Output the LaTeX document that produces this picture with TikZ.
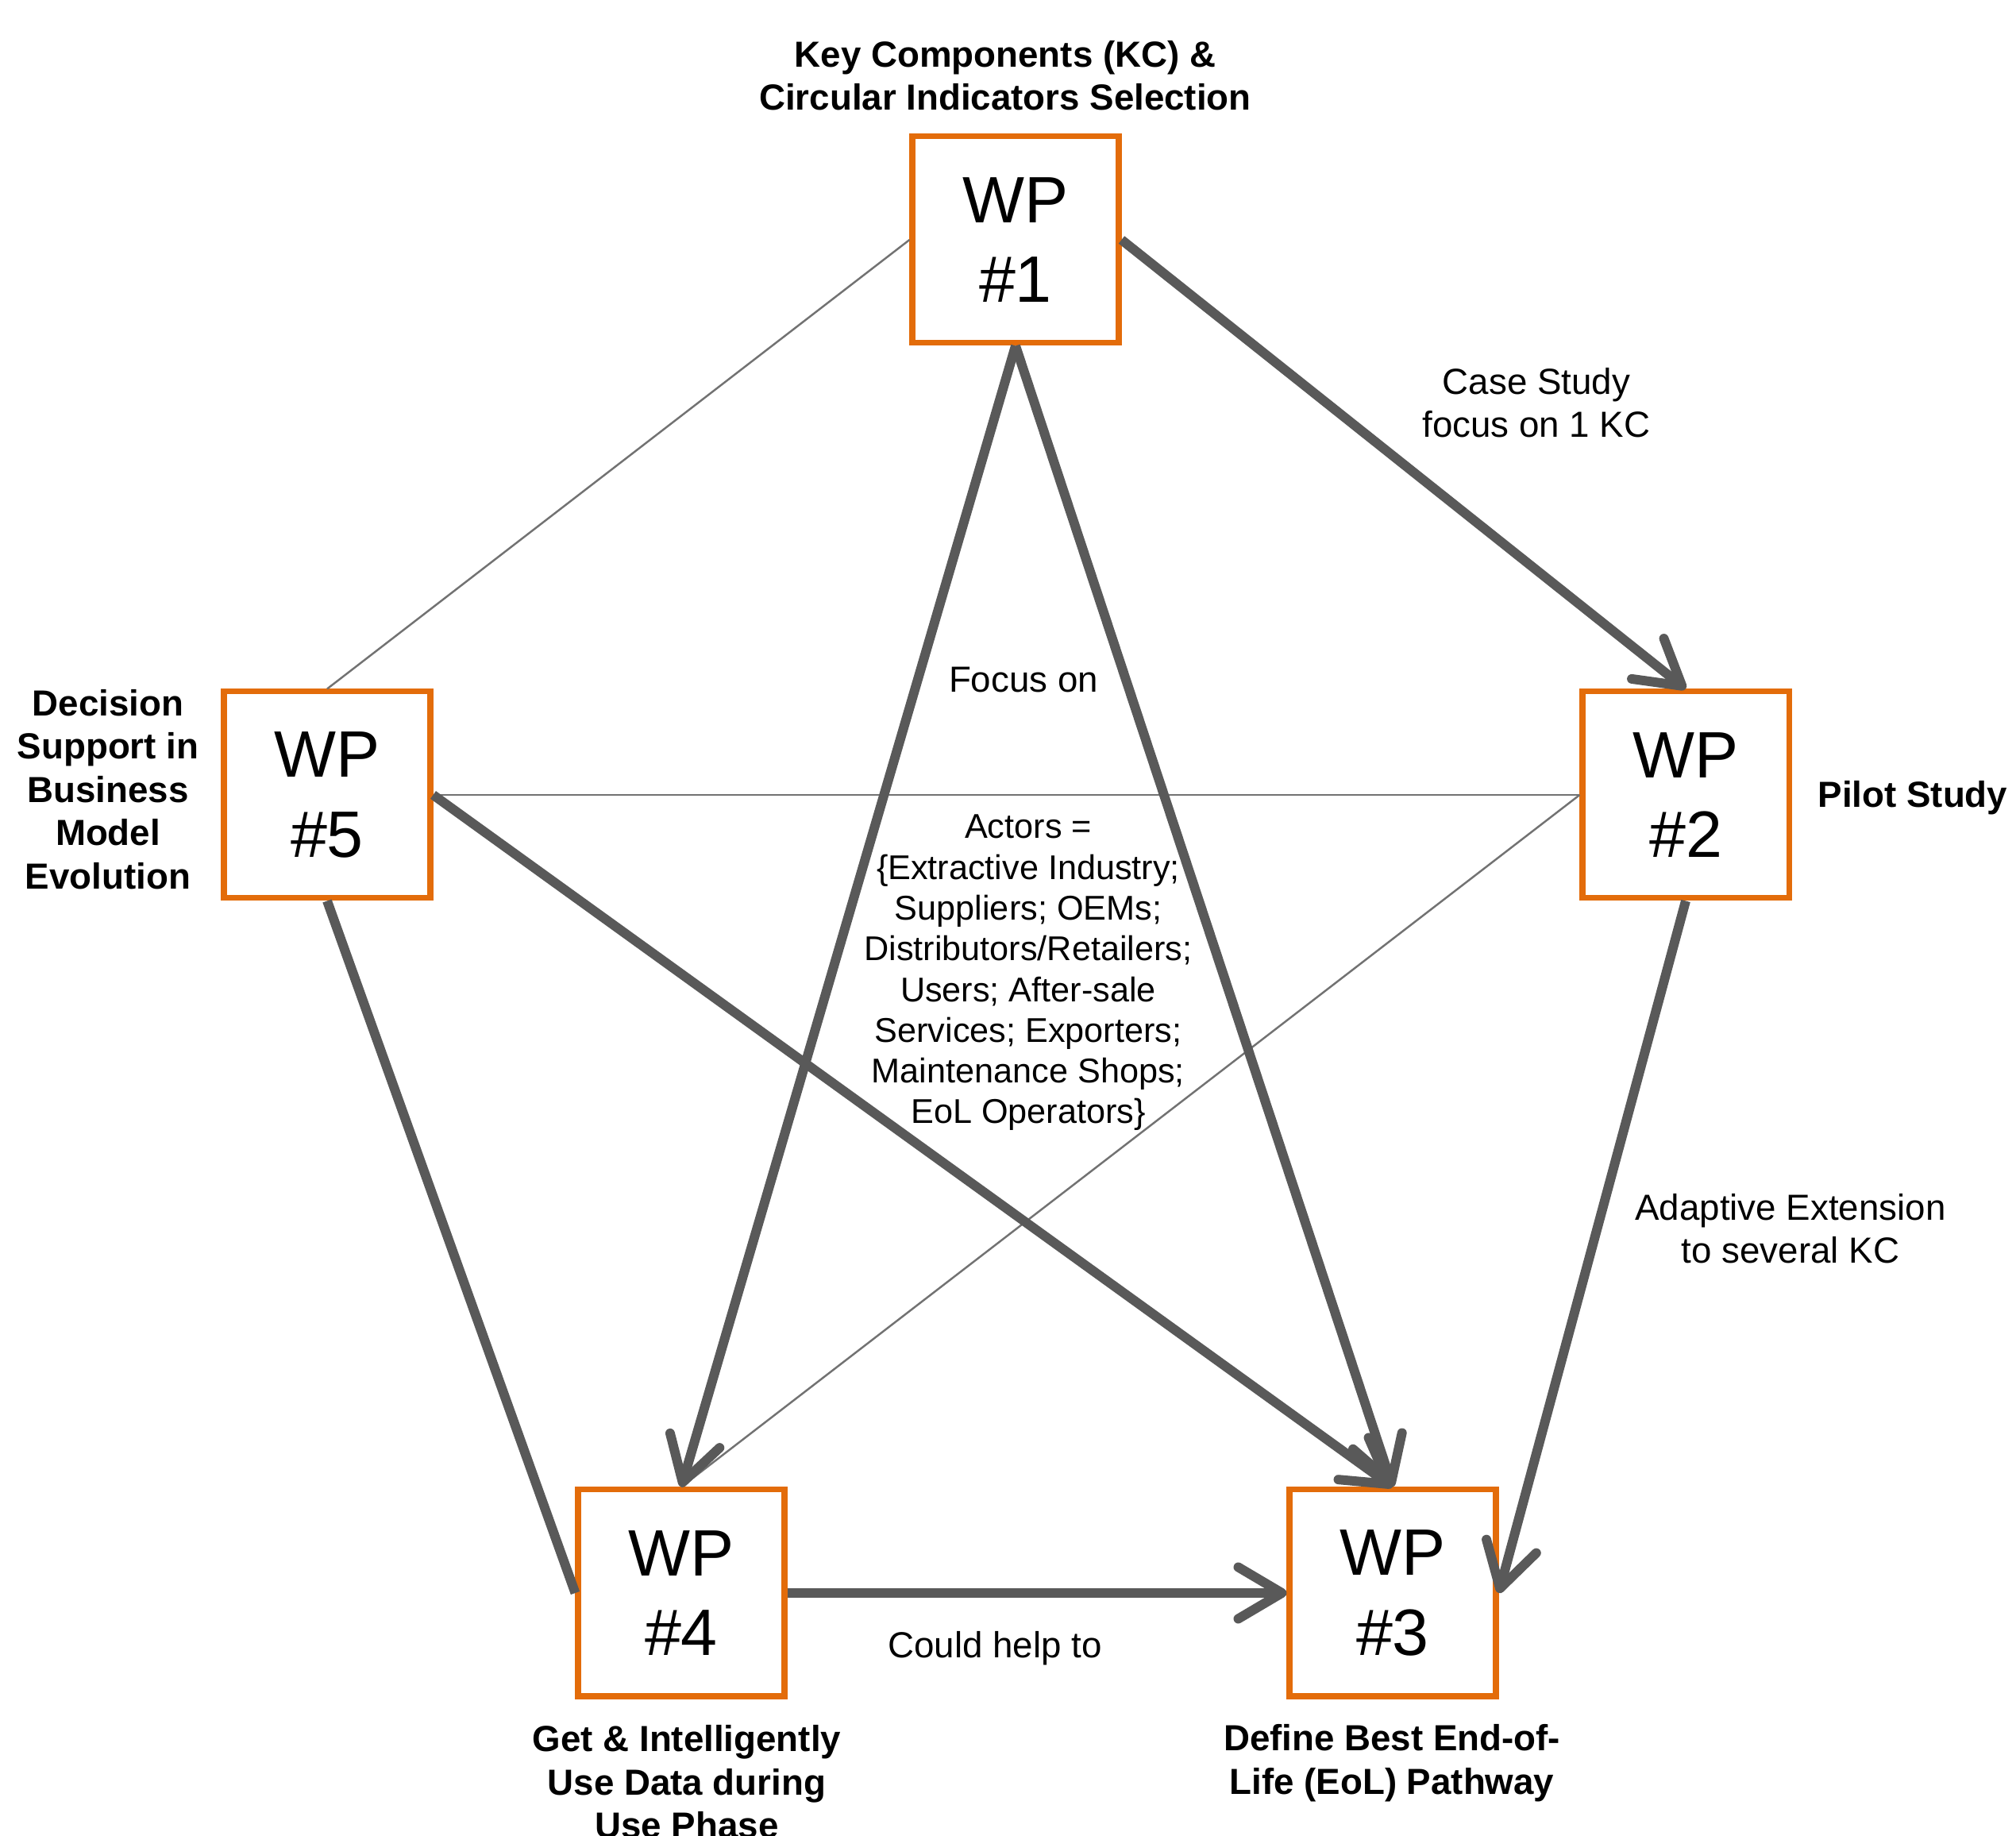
\documentclass[tikz,border=0pt]{standalone}
\usepackage{fontspec}
\setmainfont{Liberation Sans}
\usetikzlibrary{arrows.meta}
\definecolor{wporange}{RGB}{227,108,10}
\definecolor{linkgray}{RGB}{89,89,89}

\tikzset{
  wp/.style={draw=wporange, line width=2pt, minimum size=2.6cm, inner sep=0pt,
    align=center, font=\fontsize{23.5}{28.5}\selectfont},
  lbl/.style={align=center, font=\bfseries\fontsize{13}{15.5}\selectfont},
  txt/.style={align=center, font=\fontsize{13}{15.5}\selectfont},
  flow/.style={draw=linkgray, line width=3.4pt,
    -{Straight Barb[length=5.5mm,width=6.5mm,line cap=round,line join=round]}},
  bond/.style={draw=linkgray, line width=3.4pt},
  tie/.style={draw=linkgray!85, line width=0.7pt}
}

\begin{document}
\begin{tikzpicture}
\useasboundingbox (0,0) rectangle (25.39,23.12);
\node[wp] (wp1) at (12.79,20.10) {WP\\\#1};
\node[wp] (wp2) at (21.23,13.11) {WP\\\#2};
\node[wp] (wp3) at (17.54,3.06) {WP\\\#3};
\node[wp] (wp4) at (8.58,3.06) {WP\\\#4};
\node[wp] (wp5) at (4.12,13.11) {WP\\\#5};

\node[lbl] (kc) at (12.66,22.17) {Key Components (KC) \&\\Circular Indicators Selection};
\node[lbl] (pilot) at (24.09,13.07) {Pilot Study};
\node[lbl] (eol) at (17.53,0.92) {Define Best End-of-\\Life (EoL) Pathway};
\node[lbl] (data) at (8.65,0.68) {Get \& Intelligently\\Use Data during\\Use Phase};
\node[lbl] (bm) at (1.36,13.18) {Decision\\Support in\\Business\\Model\\Evolution};

\draw[tie] (wp1.west) -- (wp5.north);
\draw[tie] (wp5.east) -- (wp2.west);
\draw[tie] (wp2.west) -- (wp4.north);
\draw[bond] (wp5.south) -- (wp4.west);
\draw[flow] (wp1.east) -- (wp2.north);
\draw[flow] (wp1.south) -- (wp4.north);
\draw[flow] (wp1.south) -- (wp3.north);
\draw[flow] (wp5.east) -- (wp3.north);
\draw[flow] (wp2.south) -- (wp3.east);
\draw[flow] (wp4.east) -- (wp3.west);

\node[txt] (case) at (19.35,18.05) {Case Study\\focus on 1 KC};
\node[txt] (focus) at (12.89,14.56) {Focus on};
\node[txt, font=\fontsize{12.3}{14.6}\selectfont] (actors) at (12.95,10.87)
  {Actors =\\\{Extractive Industry;\\Suppliers; OEMs;\\Distributors/Retailers;\\Users; After-sale\\Services; Exporters;\\Maintenance Shops;\\EoL Operators\}};
\node[txt] (adapt) at (22.55,7.65) {Adaptive Extension\\to several KC};
\node[txt] (help) at (12.53,2.36) {Could help to};
\end{tikzpicture}
\end{document}
